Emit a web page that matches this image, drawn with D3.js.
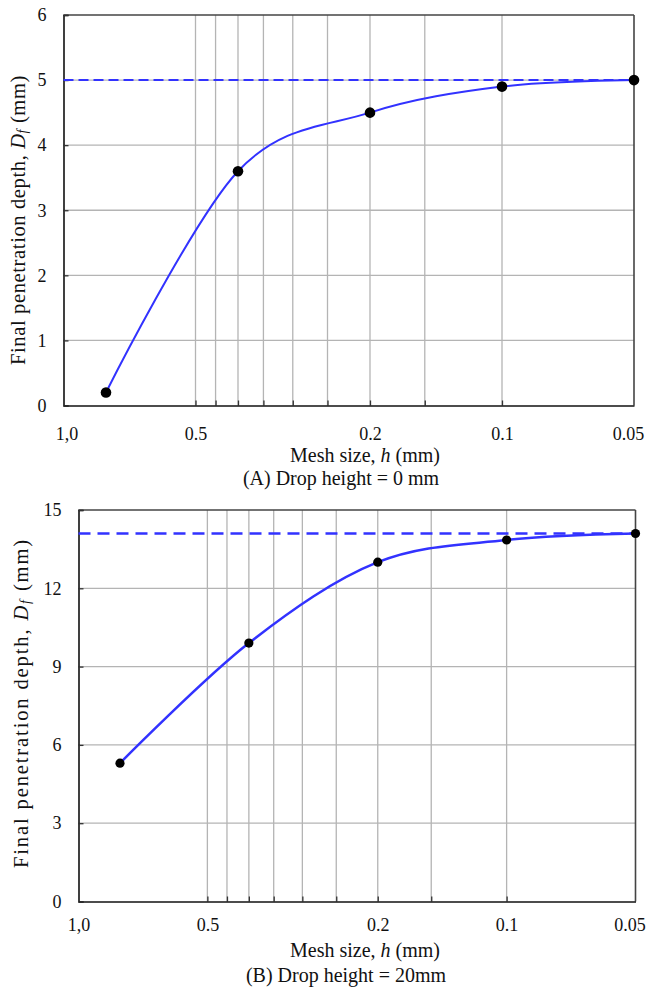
<!DOCTYPE html>
<html>
<head>
<meta charset="utf-8">
<script src="https://cdn.jsdelivr.net/npm/d3@7"></script>
<style>
  html, body { margin: 0; padding: 0; background: #fff; }
  svg { display: block; }
  svg text { font-family: "Liberation Serif", "Times New Roman", serif; }
</style>
</head>
<body>
<svg id="chart" width="649" height="993"></svg>
<script>
// Mesh sizes (mm) at which the final penetration depth was computed
const meshSizes = [0.8, 0.4, 0.2, 0.1, 0.05];
// Final penetration depth D_f (mm), drop height 0 mm
const depthDrop0 = [0.2, 3.6, 4.5, 4.9, 5.0];
// Final penetration depth D_f (mm), drop height 20 mm
const depthDrop20 = [5.3, 9.9, 13.0, 13.85, 14.1];
// Converged (reference) depths shown as dashed lines
const limitDrop0 = 5.0;
const limitDrop20 = 14.1;

// Vertical grid lines on the log mesh-size axis
const gridSizes = [0.5, 0.45, 0.4, 0.35, 0.3, 0.25, 0.2, 0.15, 0.1];
// Labelled mesh-size ticks
const xTickValues = [1.0, 0.5, 0.2, 0.1, 0.05];
const xTickLabels = ["1,0", "0.5", "0.2", "0.1", "0.05"];
// Depth ticks for each panel
const yTicksDrop0 = [0, 1, 2, 3, 4, 5, 6];
const yTicksDrop20 = [0, 3, 6, 9, 12, 15];

const captionDrop0 = "(A) Drop height = 0 mm";
const captionDrop20 = "(B) Drop height = 20mm";

const svg = d3.select("#chart");
svg.append("rect").attr("width", 649).attr("height", 993).attr("fill", "#fff");

const BLUE = "#3232ff";
const SERIF = "'Liberation Serif', 'Times New Roman', serif";

function drawPanel(p) {
  const g = svg.append("g");
  const x = d3.scaleLog().domain([1.0, 0.05]).range([p.left, p.right]);
  const y = d3.scaleLinear().domain([0, p.yMax]).range([p.bottom, p.top]);

  // grid
  g.append("g").selectAll("line").data(gridSizes).join("line")
    .attr("x1", d => x(d)).attr("x2", d => x(d))
    .attr("y1", p.top).attr("y2", p.bottom)
    .attr("stroke", "#b4b4b4").attr("stroke-width", 1.3);
  g.append("g").selectAll("line").data(p.yTicks.filter(v => v > 0 && v < p.yMax)).join("line")
    .attr("x1", p.left).attr("x2", p.right)
    .attr("y1", d => y(d)).attr("y2", d => y(d))
    .attr("stroke", "#b4b4b4").attr("stroke-width", 1.3);

  // frame (top and right)
  g.append("line").attr("x1", p.left).attr("x2", p.right).attr("y1", p.top).attr("y2", p.top)
    .attr("stroke", "#444").attr("stroke-width", 1.3);
  g.append("line").attr("x1", p.right).attr("x2", p.right).attr("y1", p.top).attr("y2", p.bottom)
    .attr("stroke", "#444").attr("stroke-width", 1.6);

  // minor inward ticks on the bottom axis
  const minorAxis = d3.axisBottom(x).tickValues(gridSizes).tickSize(-5).tickFormat("");
  const gm = g.append("g").attr("transform", `translate(0,${p.bottom})`).call(minorAxis);
  gm.select(".domain").remove();
  gm.selectAll(".tick line").attr("stroke", "#333").attr("stroke-width", 1.3);

  // labelled bottom axis
  const xAxis = d3.axisBottom(x).tickValues(xTickValues).tickSize(0).tickPadding(p.xLabelPad)
    .tickFormat((d, i) => xTickLabels[i]);
  const gx = g.append("g").attr("transform", `translate(0,${p.bottom})`).call(xAxis);
  gx.attr("font-family", null);
  gx.select(".domain").attr("stroke", "#111").attr("stroke-width", 1.6);
  gx.selectAll("text").style("font-family", SERIF).attr("font-size", 18).attr("fill", "#111")
    .attr("dx", (d, i) => i === xTickValues.length - 1 ? -6 : (i === 0 ? p.firstDx : 0));

  // left axis
  const yAxis = d3.axisLeft(y).tickValues(p.yTicks).tickSize(-5).tickPadding(17).tickFormat(d3.format("d"));
  const gy = g.append("g").attr("transform", `translate(${p.left},0)`).call(yAxis);
  gy.attr("font-family", null);
  gy.select(".domain").attr("stroke", "#111").attr("stroke-width", 1.6);
  gy.selectAll(".tick line").attr("stroke", "#333").attr("stroke-width", 1.3);
  gy.selectAll("text").style("font-family", SERIF).attr("font-size", 18).attr("fill", "#111");

  // converged depth (dashed)
  g.append("line")
    .attr("x1", p.left).attr("x2", p.right)
    .attr("y1", y(p.limit)).attr("y2", y(p.limit))
    .attr("stroke", BLUE).attr("stroke-width", p.lineWidth)
    .attr("stroke-dasharray", p.dash);

  // smoothed curve
  const pts = meshSizes.map((h, i) => [h, p.depth[i]]);
  const line = d3.line().x(d => x(d[0])).y(d => y(d[1])).curve(d3.curveCardinal.tension(0));
  g.append("path").attr("d", line(pts)).attr("fill", "none")
    .attr("stroke", BLUE).attr("stroke-width", p.lineWidth);

  // markers
  g.append("g").selectAll("circle").data(pts).join("circle")
    .attr("cx", d => x(d[0])).attr("cy", d => y(d[1])).attr("r", p.markerR)
    .attr("fill", "#000");

  // y title
  const yt = g.append("text")
    .attr("transform", `translate(${p.yTitleX},${p.yTitleY}) rotate(-90)`)
    .attr("text-anchor", "middle").attr("dominant-baseline", "central")
    .style("font-family", SERIF)
    .attr("font-size", 20.5).attr("fill", "#111");
  yt.append("tspan").text("Final penetration depth, ");
  yt.append("tspan").attr("font-style", "italic").text("D");
  yt.append("tspan").attr("font-style", "italic").attr("font-size", 14).attr("dy", 4).text("f");
  yt.append("tspan").attr("dy", -4).text(" (mm)");
  const natural = yt.node().getComputedTextLength();
  const nChars = yt.text().length;
  yt.attr("letter-spacing", Math.max(0, (p.yTitleLen - natural) / nChars));

  // x title
  const xt = g.append("text")
    .attr("x", p.xTitleX).attr("y", p.xTitleY)
    .style("font-family", SERIF)
    .attr("text-anchor", "middle").attr("font-size", 20).attr("fill", "#111");
  xt.append("tspan").text("Mesh size, ");
  xt.append("tspan").attr("font-style", "italic").text("h");
  xt.append("tspan").text(" (mm)");

  // caption
  g.append("text")
    .attr("x", p.captionX).attr("y", p.captionY)
    .style("font-family", SERIF)
    .attr("text-anchor", "middle").attr("font-size", 20).attr("fill", "#111")
    .text(p.caption);
}

drawPanel({
  left: 63.5, right: 634, top: 15, bottom: 405.5,
  yMax: 6, yTicks: yTicksDrop0, depth: depthDrop0, limit: limitDrop0,
  lineWidth: 2, dash: "10,5", markerR: 5.3, xLabelPad: 22, firstDx: 3,
  yTitleX: 18, yTitleY: 220, yTitleLen: 290,
  xTitleX: 365, xTitleY: 462, captionX: 341, captionY: 485, caption: captionDrop0
});

drawPanel({
  left: 78.5, right: 635.5, top: 510, bottom: 901.5,
  yMax: 15, yTicks: yTicksDrop20, depth: depthDrop20, limit: limitDrop20,
  lineWidth: 2.5, dash: "12,7", markerR: 4.6, xLabelPad: 17, firstDx: 0,
  yTitleX: 21, yTitleY: 703, yTitleLen: 330,
  xTitleX: 365, xTitleY: 957, captionX: 346, captionY: 982, caption: captionDrop20
});
</script>
</body>
</html>
